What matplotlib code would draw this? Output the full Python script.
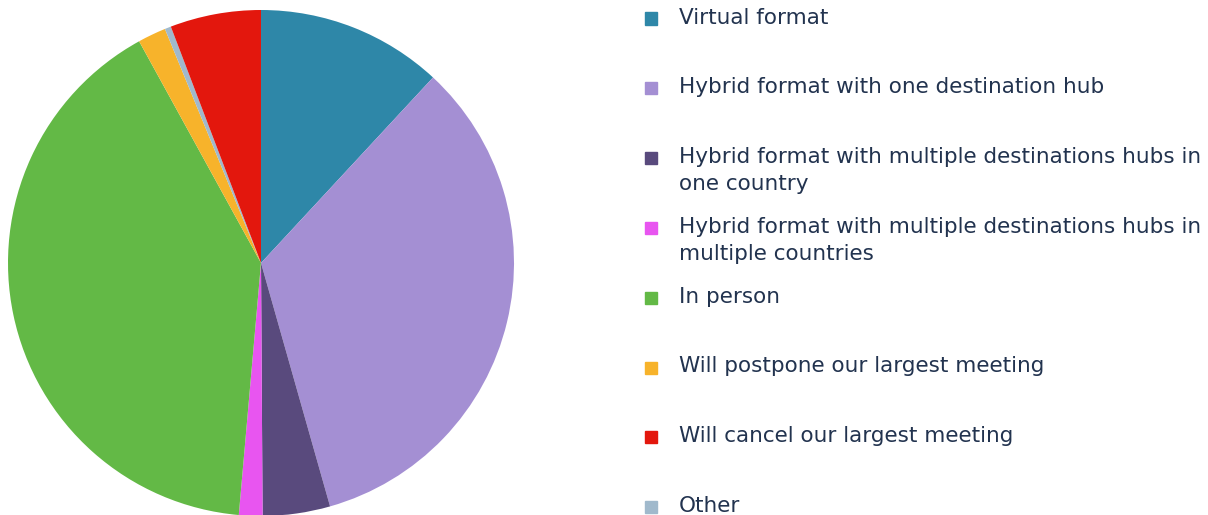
import matplotlib.pyplot as plt
from matplotlib.patches import Rectangle

# pie slices in drawing order (clockwise from 12 o'clock)
slice_labels = ["Virtual format", "Hybrid format with one destination hub",
                "Hybrid format with multiple destinations hubs in one country",
                "Hybrid format with multiple destinations hubs in multiple countries",
                "In person", "Will postpone our largest meeting", "Other",
                "Will cancel our largest meeting"]
slice_values = [11.9, 33.7, 4.3, 1.5, 40.6, 1.8, 0.4, 5.8]
slice_colors = ["#2e87a8", "#a48fd3", "#594a7d", "#e855f0", "#63b946",
                "#f7b32b", "#a0b9cc", "#e3170d"]

# legend order as shown on the right
legend_lines = [["Virtual format"],
                ["Hybrid format with one destination hub"],
                ["Hybrid format with multiple destinations hubs in", "one country"],
                ["Hybrid format with multiple destinations hubs in", "multiple countries"],
                ["In person"],
                ["Will postpone our largest meeting"],
                ["Will cancel our largest meeting"],
                ["Other"]]
legend_keys = ["Virtual format", "Hybrid format with one destination hub",
               "Hybrid format with multiple destinations hubs in one country",
               "Hybrid format with multiple destinations hubs in multiple countries",
               "In person", "Will postpone our largest meeting",
               "Will cancel our largest meeting", "Other"]

W, H = 1208, 515
fig = plt.figure(figsize=(W / 100, H / 100), dpi=100)
plt.rcParams['font.family'] = ['DejaVu Sans']

ax = fig.add_axes([8 / W, -1 / H, 506 / W, 506 / H])
ax.pie(slice_values, colors=slice_colors, startangle=90, counterclock=False,
       wedgeprops={"linewidth": 0})
ax.set_xlim(-1, 1)
ax.set_ylim(-1, 1)
ax.set_aspect("equal")

color_of = dict(zip(slice_labels, slice_colors))
text_color = "#22334f"
for i, (key, lines) in enumerate(zip(legend_keys, legend_lines)):
    yc = 17.5 + 69.8 * i
    fig.patches.append(Rectangle((645 / W, 1 - (yc + 7) / H), 12 / W, 12 / H,
                                 transform=fig.transFigure, color=color_of[key]))
    for j, line in enumerate(lines):
        fig.text(679 / W, 1 - (yc + 27 * j) / H, line, fontsize=15.5,
                 color=text_color, va="center", ha="left")

fig.savefig("out.png", dpi=100)
